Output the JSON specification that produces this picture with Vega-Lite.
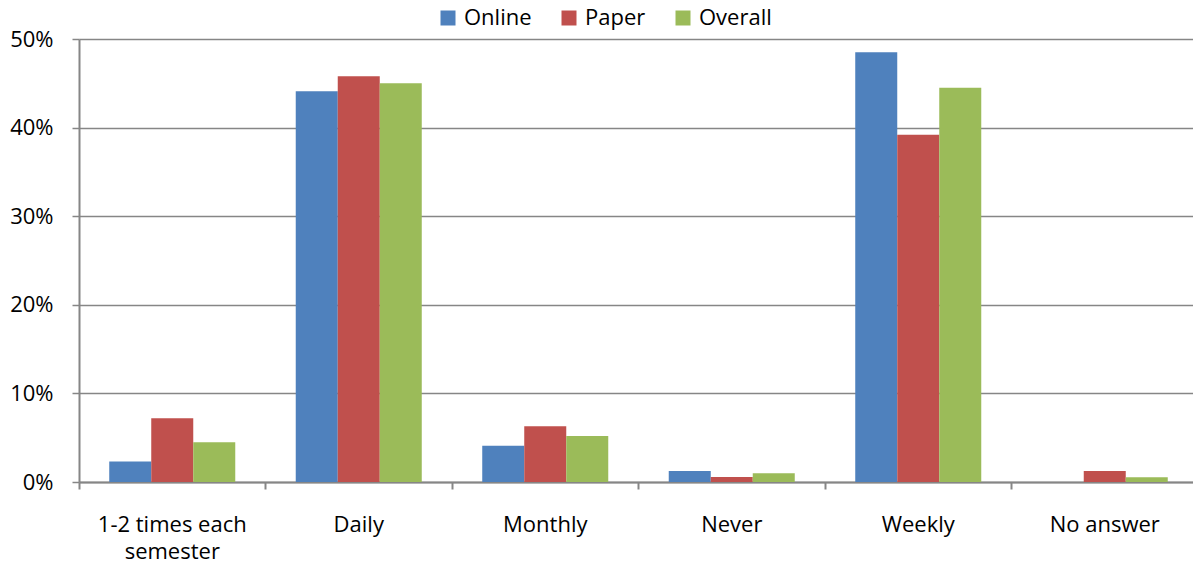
{
  "$schema": "https://vega.github.io/schema/vega-lite/v6.json",
  "autosize": "none",
  "width": 1119,
  "height": 443,
  "padding": {"left": 79, "top": 39, "right": 0, "bottom": 84},
  "background": "white",
  "config": {
    "view": {"stroke": null},
    "font": "Open Sans",
    "axis": {"labelFont": "Open Sans", "labelFontSize": 22, "labelColor": "#000000"},
    "legend": {"labelFont": "Open Sans", "labelFontSize": 22, "labelColor": "#000000"}
  },
  "data": {
    "values": [
      {"category": "1-2 times each semester", "series": "Online", "value": 0.023},
      {"category": "1-2 times each semester", "series": "Paper", "value": 0.072},
      {"category": "1-2 times each semester", "series": "Overall", "value": 0.045},
      {"category": "Daily", "series": "Online", "value": 0.441},
      {"category": "Daily", "series": "Paper", "value": 0.458},
      {"category": "Daily", "series": "Overall", "value": 0.450},
      {"category": "Monthly", "series": "Online", "value": 0.041},
      {"category": "Monthly", "series": "Paper", "value": 0.063},
      {"category": "Monthly", "series": "Overall", "value": 0.052},
      {"category": "Never", "series": "Online", "value": 0.0124},
      {"category": "Never", "series": "Paper", "value": 0.0056},
      {"category": "Never", "series": "Overall", "value": 0.010},
      {"category": "Weekly", "series": "Online", "value": 0.485},
      {"category": "Weekly", "series": "Paper", "value": 0.392},
      {"category": "Weekly", "series": "Overall", "value": 0.445},
      {"category": "No answer", "series": "Online", "value": 0},
      {"category": "No answer", "series": "Paper", "value": 0.0124},
      {"category": "No answer", "series": "Overall", "value": 0.0053}
    ]
  },
  "mark": {"type": "bar"},
  "encoding": {
    "x": {
      "field": "category",
      "type": "nominal",
      "sort": ["1-2 times each semester", "Daily", "Monthly", "Never", "Weekly", "No answer"],
      "scale": {"paddingInner": 0, "paddingOuter": 0},
      "axis": {
        "title": null,
        "labelAngle": 0,
        "bandPosition": 0,
        "ticks": true,
        "tickSize": 7,
        "tickWidth": 2,
        "tickColor": "#868686",
        "domainColor": "#868686",
        "domainWidth": 2,
        "labelPadding": 25,
        "labelAlign": "center",
        "labelLineHeight": 27,
        "labelExpr": "datum.label == '1-2 times each semester' ? ['1-2 times each', 'semester'] : datum.label",
        "grid": false
      }
    },
    "xOffset": {
      "field": "series",
      "type": "nominal",
      "sort": ["Online", "Paper", "Overall"],
      "scale": {"paddingInner": 0, "paddingOuter": 0.72}
    },
    "y": {
      "field": "value",
      "type": "quantitative",
      "scale": {"domain": [0, 0.5], "nice": false},
      "axis": {
        "title": null,
        "format": ".0%",
        "values": [0, 0.1, 0.2, 0.3, 0.4, 0.5],
        "grid": true,
        "gridColor": "#868686",
        "gridWidth": 1.5,
        "tickColor": "#868686",
        "tickSize": 7,
        "tickWidth": 1.5,
        "domainColor": "#868686",
        "domainWidth": 2,
        "labelPadding": 19
      }
    },
    "color": {
      "field": "series",
      "type": "nominal",
      "sort": ["Online", "Paper", "Overall"],
      "scale": {"domain": ["Online", "Paper", "Overall"], "range": ["#4F81BD", "#C0504D", "#9BBB59"]},
      "legend": {
        "title": null,
        "orient": "none",
        "direction": "horizontal",
        "legendX": 358,
        "legendY": -32,
        "symbolType": "square",
        "symbolSize": 225,
        "symbolStrokeWidth": 0,
        "columnPadding": 26,
        "labelOffset": 5
      }
    }
  }
}
